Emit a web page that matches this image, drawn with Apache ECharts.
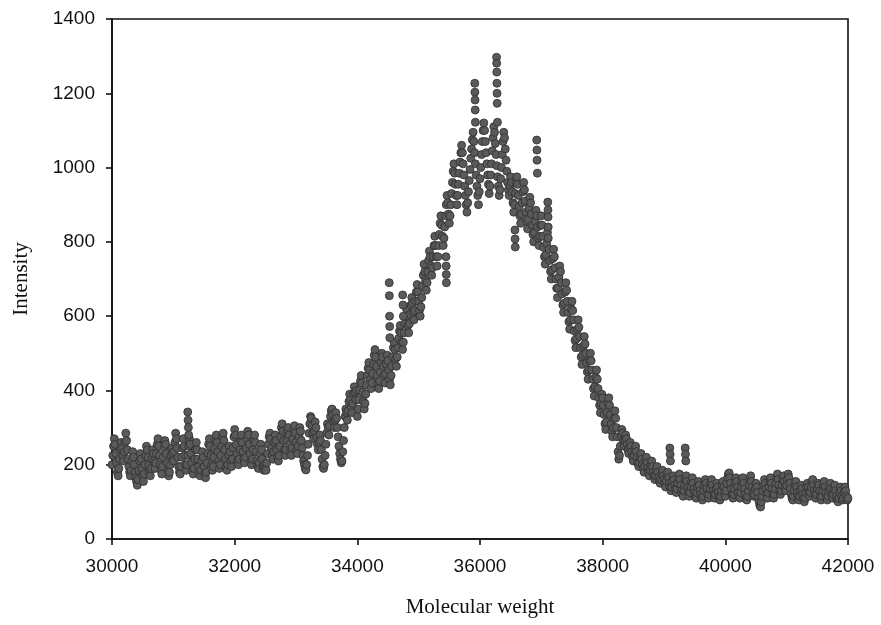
<!DOCTYPE html>
<html>
<head>
<meta charset="utf-8">
<script src="https://cdn.jsdelivr.net/npm/echarts@6/dist/echarts.min.js"></script>
<style>
  html, body { margin: 0; padding: 0; background: #ffffff; }
  #chart { width: 881px; height: 625px; }
</style>
</head>
<body>
<div id="chart"></div>
<script>
// Mass spectrum sampled on a regular grid (Da)
const massStart = 30000;
const massStep = 12.5;

// Intensity per sample, 30000 .. 42000 Da (80 samples per 1000 Da)
const intensity = [
  // 30000 - 30987.5
  200,225,250,270,255,230,205,180,170,190,215,240,260,245,225,210,235,260,285,265,
  240,215,195,180,170,185,210,235,220,200,180,165,155,145,160,185,210,230,215,190,
  170,155,175,200,225,250,240,220,200,180,170,190,215,240,230,210,190,205,230,255,
  270,250,225,200,185,175,195,220,245,265,255,230,205,185,170,180,200,225,245,230,
  // 31000 - 31987.5
  210,235,260,285,270,245,220,195,180,175,195,220,245,270,250,225,200,185,200,225,
  250,270,255,230,205,185,175,190,215,240,260,240,215,195,180,170,185,210,235,220,
  195,175,165,180,205,230,255,270,250,225,200,185,195,220,245,265,280,260,235,210,
  190,200,225,250,275,285,265,240,215,195,185,200,225,250,235,210,195,215,245,275,
  // 32000 - 32987.5
  295,280,255,230,210,200,215,240,265,280,260,235,215,205,220,245,270,290,280,255,
  230,210,200,215,240,265,280,260,235,210,195,190,205,230,255,240,215,195,185,200,
  190,185,205,230,255,275,285,270,245,225,215,235,260,280,265,240,220,210,225,250,
  275,300,310,290,265,240,225,240,265,290,300,280,255,235,225,245,270,295,305,285,
  // 33000 - 33987.5
  260,240,230,250,275,300,290,265,245,225,210,200,190,186,200,225,255,285,310,330,
  325,305,285,270,290,315,300,275,255,240,260,280,265,240,215,195,190,200,225,255,
  285,310,300,280,305,330,345,350,335,315,300,320,340,325,300,275,250,230,215,205,
  210,235,265,300,330,350,340,320,345,370,390,375,355,340,365,390,410,395,375,400,
  // 34000 - 34987.5
  330,350,375,400,425,440,420,395,370,350,365,390,415,440,460,475,455,430,405,420,
  445,470,495,510,490,465,440,420,405,425,450,475,500,490,465,440,420,445,470,495,
  480,455,430,415,440,465,490,515,530,510,485,465,490,515,540,560,575,555,530,510,
  530,555,580,600,620,600,575,555,580,605,630,650,635,610,590,615,640,665,685,665,
  // 35000 - 35987.5
  640,615,600,625,650,680,710,740,720,695,670,690,720,750,775,760,735,710,730,760,
  790,815,790,760,735,760,790,820,850,870,845,815,790,810,840,870,900,925,905,875,
  850,870,900,930,960,990,1010,985,955,925,900,925,955,985,1015,1040,1060,1040,1010,980,
  950,925,900,880,905,935,965,995,1025,1050,1075,1095,1070,1040,1010,980,950,925,900,935,
  // 36000 - 36987.5
  970,1000,1035,1070,1100,1120,1100,1070,1040,1010,980,955,930,950,980,1010,1045,1080,1110,1095,
  1065,1035,1005,975,950,925,940,970,1000,1035,1070,1095,1080,1050,1020,990,960,940,925,950,
  975,960,935,905,880,900,930,960,975,955,925,895,870,850,875,905,935,960,940,910,
  880,855,835,860,890,920,905,875,845,820,800,825,855,885,870,840,810,790,815,845,
  // 37000 - 37987.5
  870,845,815,785,760,740,765,795,825,810,780,750,720,700,725,755,780,760,730,700,
  675,650,675,705,735,720,690,660,630,610,635,665,690,670,640,610,585,565,590,620,
  640,615,590,560,535,515,540,565,590,570,545,515,490,470,495,520,545,525,500,475,
  450,430,455,480,500,480,455,430,405,385,410,435,455,430,405,380,360,340,365,390,
  // 38000 - 38987.5
  380,360,335,310,295,315,340,365,380,360,335,310,290,275,300,325,345,325,300,275,
  235,215,225,250,275,295,285,265,250,265,280,270,255,240,230,245,260,250,235,220,
  210,225,240,250,235,220,205,195,205,220,230,215,200,190,180,195,210,220,205,190,
  180,170,185,200,210,195,180,170,160,170,185,195,180,165,155,150,160,175,185,170,
  // 39000 - 39987.5
  160,150,140,155,170,180,165,150,140,130,140,155,170,160,145,135,125,135,150,165,
  175,160,145,130,120,115,130,145,160,170,155,140,125,115,125,140,155,165,150,135,
  125,115,110,125,140,155,145,130,120,110,105,115,130,145,160,150,135,120,110,120,
  135,150,160,145,130,120,110,120,135,150,140,125,115,105,115,130,145,155,140,125,
  // 40000 - 40987.5
  115,130,150,165,175,178,165,150,135,120,110,120,135,150,165,155,140,125,115,110,
  125,140,155,165,150,135,120,110,105,115,130,145,160,170,155,140,125,115,120,135,
  150,140,125,110,100,90,86,100,115,130,145,160,150,135,120,110,125,140,155,165,
  150,135,120,110,120,135,150,165,175,160,145,130,120,130,145,160,170,155,140,130,
  // 41000 - 41987.5
  145,160,175,165,150,135,120,110,105,115,130,145,155,140,125,115,105,115,130,145,
  135,120,110,100,110,125,140,150,140,125,115,125,140,155,160,145,130,120,110,120,
  135,150,145,130,115,105,115,130,145,155,140,125,110,105,115,130,140,150,135,120,
  110,120,135,145,130,115,105,100,110,125,140,130,115,105,110,125,140,130,115,105,
  // 42000
  110
];

// Isolated high readings standing above the main trace: [mass, intensity]
const spikePoints = [
  [31235,342],[31240,320],[31245,300],[31250,280],
  [34520,690],[34522,655],[34525,600],[34528,572],[34530,542],
  [34740,657],[34745,630],[34750,600],
  [35445,760],[35448,735],[35450,712],[35452,690],
  [35915,1227],[35917,1203],[35920,1182],[35922,1155],[35925,1122],
  [36270,1297],[36272,1281],[36274,1257],[36276,1227],[36278,1200],[36280,1173],[36285,1122],
  [36570,832],[36572,808],[36575,786],
  [36925,1074],[36928,1047],[36930,1020],[36935,985],
  [37105,907],[37108,886],[37110,867],[37112,840],
  [39095,245],[39100,228],[39105,210],
  [39345,245],[39350,228],[39355,210]
];

const xMin = 30000, xMax = 42000, xInterval = 2000;
const yMin = 0, yMax = 1400, yInterval = 200;
const xName = 'Molecular weight';
const yName = 'Intensity';

const points = intensity.map((v, i) => [massStart + i * massStep, v]).concat(spikePoints);

const chart = echarts.init(document.getElementById('chart'), null, { renderer: 'canvas' });

const axisLineStyle = { color: '#111111', width: 1.6 };
const tickFont = { fontFamily: 'Liberation Sans, Arial, sans-serif', fontSize: 19, color: '#111111' };
const nameFont = { fontFamily: 'Liberation Serif, Times New Roman, serif', fontSize: 21, color: '#111111' };

chart.setOption({
  animation: false,
  backgroundColor: '#ffffff',
  grid: {
    left: 112, right: 33, top: 19, bottom: 86,
    show: true, borderColor: '#111111', borderWidth: 1.6, backgroundColor: 'transparent'
  },
  xAxis: {
    type: 'value',
    min: xMin, max: xMax, interval: xInterval,
    name: xName, nameLocation: 'middle', nameGap: 58,
    nameTextStyle: nameFont,
    axisLine: { show: true, onZero: false, lineStyle: axisLineStyle },
    axisTick: { show: true, length: 6, lineStyle: axisLineStyle },
    axisLabel: Object.assign({ margin: 18, formatter: v => String(v) }, tickFont),
    splitLine: { show: false }
  },
  yAxis: {
    type: 'value',
    min: yMin, max: yMax, interval: yInterval,
    name: yName, nameLocation: 'middle', nameGap: 80,
    nameTextStyle: nameFont,
    axisLine: { show: true, onZero: false, lineStyle: axisLineStyle },
    axisTick: { show: true, length: 6, lineStyle: axisLineStyle },
    axisLabel: Object.assign({ margin: 17, formatter: v => String(v) }, tickFont),
    splitLine: { show: false }
  },
  series: [{
    type: 'scatter',
    data: points,
    symbol: 'circle',
    symbolSize: 8,
    itemStyle: { color: '#5a5a5a', borderColor: '#2e2e2e', borderWidth: 0.8, opacity: 1 },
    emphasis: { disabled: true }
  }]
});
</script>
</body>
</html>
